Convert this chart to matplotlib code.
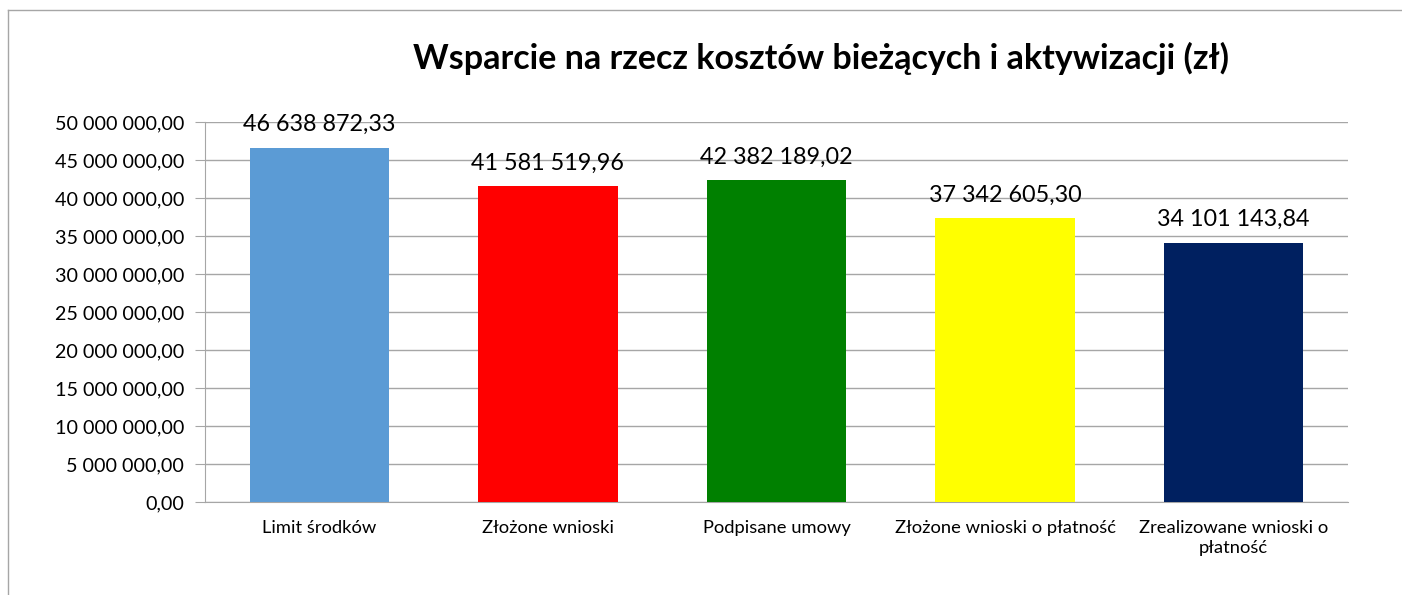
import matplotlib.pyplot as plt
from matplotlib.lines import Line2D
from matplotlib.ticker import FuncFormatter

categories = ["Limit środków", "Złożone wnioski", "Podpisane umowy",
              "Złożone wnioski o płatność", "Zrealizowane wnioski o\npłatność"]
values = [46638872.33, 41581519.96, 42382189.02, 37342605.30, 34101143.84]
colors = ["#5b9bd5", "#ff0000", "#008000", "#ffff00", "#002060"]
yticks = list(range(0, 50000001, 5000000))

W, H = 1402, 595
FONT = ["Lato", "DejaVu Sans"]


def pl(v):
    s = f"{v:,.2f}"
    return s.replace(",", " ").replace(".", ",")


fig = plt.figure(figsize=(W / 100, H / 100), dpi=100)
fig.patch.set_facecolor("white")

# outer chart border (top + left only visible)
fig.add_artist(Line2D([8 / W, 8 / W], [0, 1 - 10 / H], color="#a6a6a6", lw=1))
fig.add_artist(Line2D([8 / W, 1], [1 - 10 / H, 1 - 10 / H], color="#a6a6a6", lw=1))

left, right, top, bottom = 205, 1348, 122, 502
ax = fig.add_axes([left / W, 1 - bottom / H, (right - left) / W, (bottom - top) / H])

x = range(len(categories))
ax.bar(x, values, width=0.61, color=colors, zorder=3)

for xi, v in zip(x, values):
    ax.annotate(pl(v), (xi, v), xytext=(0, 9), textcoords="offset points",
                ha="center", va="bottom", fontsize=16.8, family=FONT, color="#000")

ax.set_xlim(-0.5, len(categories) - 0.5)
ax.set_ylim(0, 50000000)
ax.set_yticks(yticks)
ax.yaxis.set_major_formatter(FuncFormatter(lambda v, p: pl(v)))
ax.set_xticks(list(x))
ax.set_xticklabels(categories, fontsize=13.2, family=FONT, linespacing=1.3)
for lab in ax.get_yticklabels():
    lab.set_fontsize(14.2)
    lab.set_family(FONT)

ax.grid(axis="y", color="#a6a6a6", lw=1, zorder=0)
for s in ("top", "right"):
    ax.spines[s].set_visible(False)
ax.spines["left"].set_color("#a6a6a6")
ax.spines["bottom"].set_color("#a6a6a6")
ax.tick_params(axis="y", length=7, color="#a6a6a6", pad=8)
ax.tick_params(axis="x", length=0, pad=13)

fig.text(821 / W, 1 - 58 / H, "Wsparcie na rzecz kosztów bieżących i aktywizacji (zł)",
         ha="center", va="center", fontsize=24.5, fontweight="bold", family=FONT)

fig.savefig("out.png", dpi=100, facecolor="white")
